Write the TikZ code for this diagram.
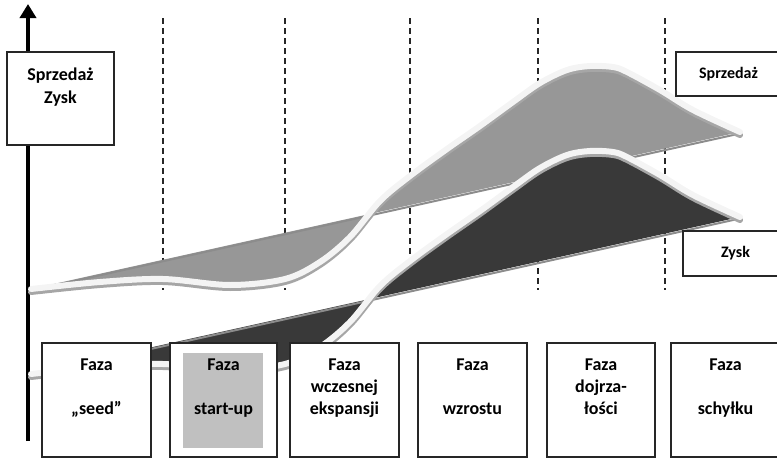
\documentclass[tikz,border=0pt]{standalone}
\usepackage{fontspec}
\setmainfont{Carlito}
\usetikzlibrary{positioning,arrows.meta}
\definecolor{salesgray}{HTML}{979797}
\definecolor{profitgray}{HTML}{393939}
\definecolor{bandwhite}{HTML}{F4F4F4}
\definecolor{bandshadow}{HTML}{A6A6A6}
\definecolor{startupgray}{HTML}{C0C0C0}
\def\ribbonpath{plot[smooth, tension=0.55] coordinates {(31,289) (100,282) (163,279) (230,285) (285,279) (320,262) (350,237) (380,201) (410,176) (447,149) (480,126) (513,102) (540,83) (567,70) (590,66) (613,67) (627,72) (660,90) (693,110) (740,132)}}

\begin{document}
\begin{tikzpicture}[x=1pt, y=-1pt, every node/.style={draw=black!85, line width=1.5pt, fill=white, font=\bfseries}, phasebox/.style={minimum width=109pt, minimum height=114pt}, caption/.style={draw=none, fill=none, inner sep=0pt, align=center, font=\bfseries\fontsize{18}{22}\selectfont}, phaseline/.style={dash pattern=on 6pt off 4pt, line width=1.5pt, black!85}, edgeband/.style={line width=6pt, line cap=round}]
    \useasboundingbox (0,0) rectangle (777,458);
    \clip (0,0) rectangle (777,458);

    \foreach \x in {163,285,410,538,665}
        \draw[phaseline] (\x,18) -- (\x,290);

    \coordinate (axisfoot) at (28,441);
    \coordinate (axistip) at (28,4);
    \draw[line width=4.5pt, -{Triangle[width=16pt,length=14pt]}] (axisfoot) -- (axistip);

    \foreach \dy/\col in {0/salesgray, 85/profitgray} {
        \begin{scope}[yshift=-\dy pt]
            \fill[\col] \ribbonpath -- cycle;
            \draw[line width=2pt, black!45] (31,290.5) -- (740,133.5);
            \draw[edgeband, bandshadow, yshift=-3pt] \ribbonpath;
            \draw[edgeband, bandwhite] \ribbonpath;
        \end{scope}
    }

    \node[minimum width=107pt, minimum height=93pt] (unitbox) at (60.5,98.5) {};
    \node[caption, font=\bfseries\fontsize{18}{23}\selectfont, below=16pt of unitbox.north] (unitlabel) {Sprzedaż\\Zysk};

    \node[minimum width=105pt, minimum height=44pt, font=\bfseries\fontsize{16}{19}\selectfont] (saleslabel) at (728.5,74) {Sprzedaż};
    \node[minimum width=105pt, minimum height=45pt, font=\bfseries\fontsize{16}{19}\selectfont] (profitlabel) at (735.5,253.5) {Zysk};

    \foreach \i/\x/\w in {1/96.5/109, 2/223.5/107, 3/344.5/109, 4/472.5/109, 5/601/108, 6/725.5/109}
        \node[phasebox, minimum width=\w pt] (phase\i) at (\x,400) {};
    \node[draw=none, fill=startupgray, minimum width=80pt, minimum height=95pt] (startupfill) at (223,400.5) {};

    \foreach \i/\txt in {1/{Faza\\[22pt]„seed”}, 2/{Faza\\[22pt]start-up}, 3/{Faza\\wczesnej\\ekspansji}, 4/{Faza\\[22pt]wzrostu}, 5/{Faza\\dojrza-\\łości}, 6/{Faza\\[22pt]schyłku}}
        \node[caption, below=16pt of phase\i.north] (phasetext\i) {\txt};
\end{tikzpicture}
\end{document}
